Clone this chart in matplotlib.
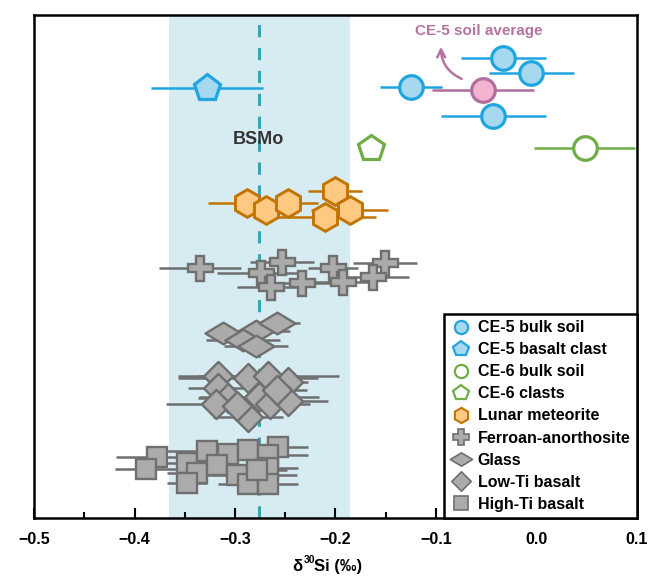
import numpy as np
import matplotlib
matplotlib.use('Agg')
import matplotlib.pyplot as plt
from matplotlib.lines import Line2D
from matplotlib.path import Path

plt.rcParams['font.family'] = ['Liberation Sans', 'DejaVu Sans']
plt.rcParams['font.weight'] = 'bold'

# delta30Si values, 2SD half widths and vertical (arbitrary) row positions
ce5_soil_x = [-0.033, -0.005, -0.125, -0.043]
ce5_soil_err = [0.042, 0.042, 0.031, 0.052]
ce5_soil_y = [460, 445, 431, 402]

ce5_avg_x = [-0.053]
ce5_avg_err = [0.051]
ce5_avg_y = [428]

ce5_clast_x = [-0.328]
ce5_clast_err = [0.056]
ce5_clast_y = [430]

ce6_soil_x = [0.048]
ce6_soil_err = [0.050]
ce6_soil_y = [370]

ce6_clast_x = [-0.165]
ce6_clast_y = [370]

met_x = [-0.288, -0.269, -0.247, -0.2005, -0.210, -0.186]
met_err = [0.039, 0.030, 0.030, 0.027, 0.050, 0.038]
met_y = [315, 308, 315, 327, 301, 308]

fan_x = [-0.335, -0.253, -0.274, -0.264, -0.233, -0.2025, -0.1925, -0.151, -0.163]
fan_err = [0.041, 0.032, 0.044, 0.034, 0.034, 0.025, 0.030, 0.032, 0.036]
fan_y = [250, 256, 245, 231, 235, 250, 236, 255, 241]

glass_x = [-0.312, -0.279, -0.258, -0.292, -0.279]
glass_err = [0.017, 0.034, 0.023, 0.037, 0.032]
glass_y = [185, 187, 195, 178, 172]

lowti_x = [-0.317, -0.287, -0.267, -0.247, -0.317, -0.307, -0.319,
           -0.276, -0.265, -0.247, -0.287, -0.258, -0.298]
lowti_err = [0.040, 0.070, 0.070, 0.020, 0.030, 0.030, 0.050,
             0.060, 0.040, 0.040, 0.035, 0.030, 0.030]
lowti_y = [142, 140, 142, 136, 130, 120, 114, 121, 114, 117, 101, 128, 112]

highti_x = [-0.378, -0.389, -0.348, -0.328, -0.307, -0.287, -0.257, -0.267,
            -0.338, -0.318, -0.298, -0.267, -0.348, -0.287, -0.267, -0.278]
highti_err = [0.040, 0.030, 0.030, 0.050, 0.030, 0.030, 0.030, 0.040,
              0.030, 0.030, 0.060, 0.030, 0.020, 0.030, 0.030, 0.030]
highti_y = [61, 49, 55, 67, 64, 68, 71, 63, 45, 53, 43, 50, 35, 34, 34, 48]

bsmo_mean = -0.276
bsmo_lo, bsmo_hi = -0.366, -0.186

BLUE_E, BLUE_F = '#1fa5df', '#a6d8f0'
PINK_E, PINK_F = '#b06e9e', '#f2b4d0'
GREEN = '#70ad47'
ORANGE_E, ORANGE_F = '#c27400', '#ffc982'
GRAY_E, GRAY_F = '#6f6f6f', '#ababab'

flat_diamond = Path([(-1, 0), (0, 0.6), (1, 0), (0, -0.6), (-1, 0)],
                    [Path.MOVETO, Path.LINETO, Path.LINETO, Path.LINETO, Path.CLOSEPOLY])
diamond = Path([(-1, 0), (0, 1), (1, 0), (0, -1), (-1, 0)],
               [Path.MOVETO, Path.LINETO, Path.LINETO, Path.LINETO, Path.CLOSEPOLY])

fig = plt.figure(figsize=(6.63, 5.84), dpi=100)
ax = fig.add_axes([34 / 663, 66 / 584, 603 / 663, 503 / 584])

ax.axvspan(bsmo_lo, bsmo_hi, color='#d7ecf2', zorder=0, lw=0)
ax.axvline(bsmo_mean, color='#3aa4b1', ls=(0, (4, 3.5)), lw=2.2, zorder=1)
ax.text(bsmo_mean - 0.001, 379, 'BSMo', ha='center', va='center', fontsize=13,
        color='#333333', fontweight='bold', zorder=2)


def group(x, y, err, marker, ms, fc, ec, mew=1.8, ecol=None):
    for i in range(len(x)):
        if err is not None:
            ax.errorbar(x[i], y[i], xerr=err[i], fmt='none', ecolor=ecol or ec,
                        elinewidth=1.8, capsize=0, zorder=3)
        ax.plot(x[i], y[i], marker=marker, ms=ms, mfc=fc, mec=ec, mew=mew,
                ls='none', zorder=4)


group(ce5_clast_x, ce5_clast_y, ce5_clast_err, 'p', 20, BLUE_F, BLUE_E, 2.3)
group(ce5_soil_x[:3], ce5_soil_y[:3], ce5_soil_err[:3], 'o', 17, BLUE_F, BLUE_E, 2.3)
group(ce5_avg_x, ce5_avg_y, ce5_avg_err, 'o', 17, PINK_F, PINK_E, 2.3)
group(ce5_soil_x[3:], ce5_soil_y[3:], ce5_soil_err[3:], 'o', 17, BLUE_F, BLUE_E, 2.3)
group(ce6_soil_x, ce6_soil_y, ce6_soil_err, 'o', 17, 'white', GREEN, 2.3)
group(ce6_clast_x, ce6_clast_y, None, 'p', 19, 'white', GREEN, 2.3)
group(met_x, met_y, met_err, 'h', 20, ORANGE_F, ORANGE_E, 2.1)
group(fan_x, fan_y, fan_err, 'P', 18, GRAY_F, GRAY_E, 1.7)
group(glass_x, glass_y, glass_err, flat_diamond, 26, GRAY_F, GRAY_E, 1.7)
group(lowti_x, lowti_y, lowti_err, diamond, 21, GRAY_F, GRAY_E, 1.7)
group(highti_x, highti_y, highti_err, 's', 14.5, GRAY_F, GRAY_E, 1.7)

ax.text(-0.057, 487, 'CE-5 soil average', ha='center', va='center', fontsize=11,
        color='#b5739f', fontweight='bold')
ax.annotate('', xy=(-0.095, 474), xytext=(-0.072, 438),
            arrowprops=dict(arrowstyle='->', color='#b5739f', lw=1.8,
                            connectionstyle='arc3,rad=-0.35', mutation_scale=14))

ax.set_xlim(-0.5, 0.1)
ax.set_ylim(0, 503)
ax.set_xticks(np.arange(-0.5, 0.101, 0.1))
ax.set_xticks(np.arange(-0.45, 0.1, 0.1), minor=True)
ax.set_xticklabels(['\u22120.5', '\u22120.4', '\u22120.3', '\u22120.2', '\u22120.1', '0.0', '0.1'])
ax.tick_params(axis='x', which='major', direction='in', length=7, width=1.5,
               labelsize=11.5, pad=10)
ax.tick_params(axis='x', which='minor', direction='in', length=4, width=1.5)
ax.tick_params(axis='y', left=False, labelleft=False)
for s in ax.spines.values():
    s.set_linewidth(1.8)

# x label with a small superscript
fig.text(0.457, 13 / 584, '\u03b4', ha='right', va='baseline', fontsize=12, fontweight='bold')
fig.text(0.4585, 21 / 584, '30', ha='left', va='baseline', fontsize=7.5, fontweight='bold')
fig.text(0.474, 13 / 584, 'Si (\u2030)', ha='left', va='baseline', fontsize=12, fontweight='bold')

handles = [
    Line2D([], [], ls='none', marker='o', ms=9.5, mfc=BLUE_F, mec=BLUE_E, mew=1.6),
    Line2D([], [], ls='none', marker='p', ms=11.5, mfc=BLUE_F, mec=BLUE_E, mew=1.6),
    Line2D([], [], ls='none', marker='o', ms=9.5, mfc='white', mec=GREEN, mew=1.6),
    Line2D([], [], ls='none', marker='p', ms=11.5, mfc='white', mec=GREEN, mew=1.6),
    Line2D([], [], ls='none', marker='h', ms=11, mfc=ORANGE_F, mec=ORANGE_E, mew=1.5),
    Line2D([], [], ls='none', marker='P', ms=11, mfc=GRAY_F, mec=GRAY_E, mew=1.2),
    Line2D([], [], ls='none', marker=flat_diamond, ms=16, mfc=GRAY_F, mec=GRAY_E, mew=1.2),
    Line2D([], [], ls='none', marker=diamond, ms=14, mfc=GRAY_F, mec=GRAY_E, mew=1.2),
    Line2D([], [], ls='none', marker='s', ms=9.5, mfc=GRAY_F, mec=GRAY_E, mew=1.2),
]
labels = ['CE-5 bulk soil', 'CE-5 basalt clast', 'CE-6 bulk soil', 'CE-6 clasts',
          'Lunar meteorite', 'Ferroan-anorthosite', 'Glass', 'Low-Ti basalt', 'High-Ti basalt']
leg = ax.legend(handles, labels, loc='lower right', borderaxespad=0, fancybox=False,
                framealpha=1, edgecolor='black', fontsize=11.5, labelspacing=0.44,
                handletextpad=0.4, handlelength=1.3, borderpad=0.4)
leg.get_frame().set_linewidth(1.8)
for t in leg.get_texts():
    t.set_fontweight('bold')

fig.savefig('out.png', dpi=100)
